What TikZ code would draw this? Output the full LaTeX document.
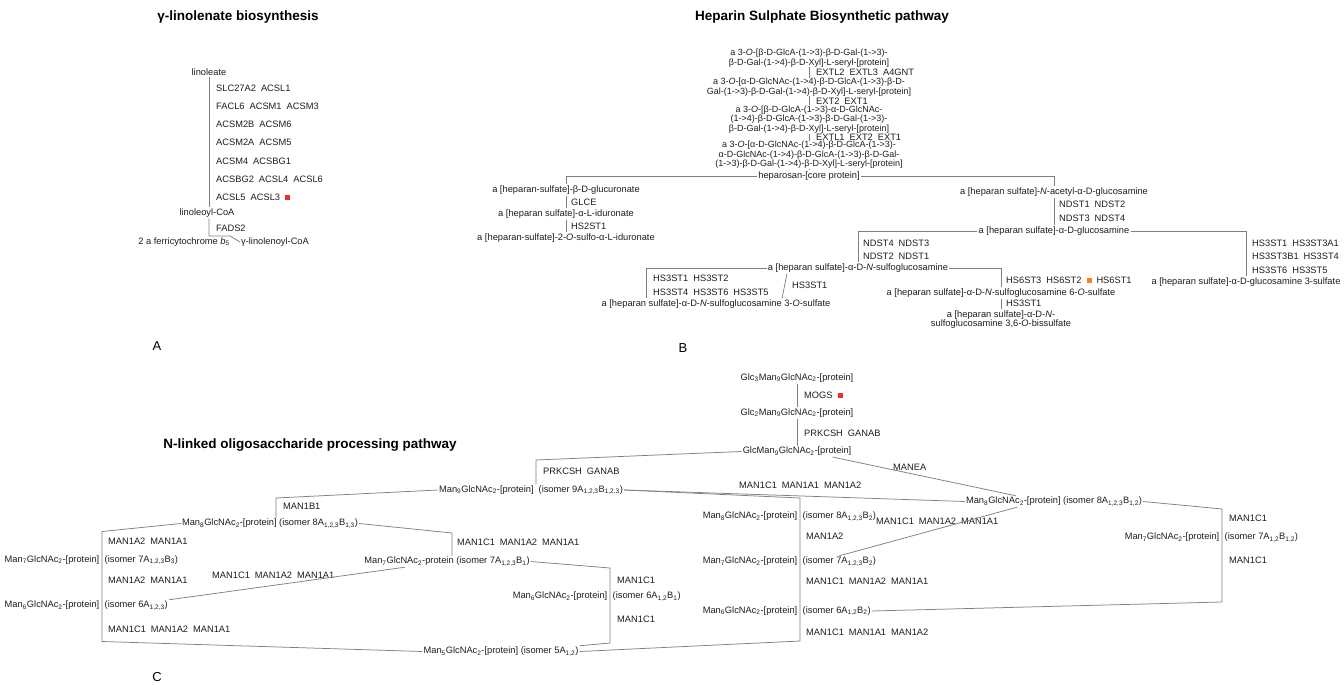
\documentclass[tikz,border=0pt]{standalone}
\usepackage{fontspec}
\setmainfont{Liberation Sans}
\usetikzlibrary{positioning}

\definecolor{linkgray}{RGB}{128,128,128}
\definecolor{txtgray}{RGB}{30,30,30}
\definecolor{hitred}{RGB}{238,48,36}
\definecolor{hitorange}{RGB}{246,128,38}

\newcommand{\hitbox}[1]{\textcolor{#1}{\rule[0.5pt]{5pt}{5pt}}}
\newcommand{\subs}[1]{\textsubscript{#1}}
\newcommand{\egap}{\hspace{5pt}}

\tikzset{
  cpd/.style={inner sep=1pt, text=txtgray, font=\fontsize{9.3}{8.3}\selectfont, align=center},
  cpdm/.style={cpd, inner sep=0.3pt, font=\fontsize{9}{8.2}\selectfont},
  enz/.style={inner sep=0pt, anchor=west, text=txtgray, font=\fontsize{9.3}{10}\selectfont},
  ttl/.style={inner sep=0pt, font=\fontsize{13.5}{15}\selectfont\bfseries},
  plabel/.style={inner sep=0pt, font=\fontsize{13}{15}\selectfont},
  link/.style={draw=linkgray, line width=0.75pt}
}

\begin{document}
\begin{tikzpicture}[x=1pt,y=-1pt]
  \fill[white] (0,0) rectangle (1344,685);
  \useasboundingbox (0,0) rectangle (1344,685);

  % A: gamma-linolenate
  \node[ttl] (ttlA) at (238,17) {γ-linolenate biosynthesis};
  \node[cpd] (linoleate) at (209,72) {linoleate};
  \node[enz] (eA1) at (216,88) {SLC27A2\egap ACSL1};
  \node[enz] (eA2) at (216,106) {FACL6\egap ACSM1\egap ACSM3};
  \node[enz] (eA3) at (216,124.5) {ACSM2B\egap ACSM6};
  \node[enz] (eA4) at (216,142.5) {ACSM2A\egap ACSM5};
  \node[enz] (eA5) at (216,161) {ACSM4\egap ACSBG1};
  \node[enz] (eA6) at (216,179) {ACSBG2\egap ACSL4\egap ACSL6};
  \node[enz] (eA7) at (216,197) {ACSL5\egap ACSL3\egap\hitbox{hitred}};
  \node[cpd] (linoleoyl) at (207,213) {linoleoyl-CoA};
  \node[enz] (eA8) at (216,228.5) {FADS2};
  \node[cpd] (ferri) at (184,242) {2 a ferricytochrome \textit{b}\subs{5}};
  \node[cpd] (glcoa) at (275,242) {γ-linolenoyl-CoA};
  \coordinate (splitA) at (209,236);
  \draw[link] (linoleate.south -| splitA) -- (linoleoyl.north -| splitA);
  \draw[link] (linoleoyl.south -| splitA) -- (splitA) -- ++(21,0) -- (glcoa.west);
  \node[plabel] (labA) at (157,346) {A};

  % B: heparin sulphate
  \node[ttl] (ttlB) at (822,17) {Heparin Sulphate Biosynthetic pathway};
  \node[cpdm] (hsA) at (809,58) {a 3-\textit{O}-[β-D-GlcA-(1->3)-β-D-Gal-(1->3)-\\β-D-Gal-(1->4)-β-D-Xyl]-L-seryl-[protein]};
  \node[enz] (eB1) at (816,72.5) {EXTL2\egap EXTL3\egap A4GNT};
  \node[cpdm] (hsB) at (809,87) {a 3-\textit{O}-[α-D-GlcNAc-(1->4)-β-D-GlcA-(1->3)-β-D-\\Gal-(1->3)-β-D-Gal-(1->4)-β-D-Xyl]-L-seryl-[protein]};
  \node[enz] (eB2) at (816,101) {EXT2\egap EXT1};
  \node[cpdm] (hsC) at (809,119.5) {a 3-\textit{O}-[β-D-GlcA-(1->3)-α-D-GlcNAc-\\(1->4)-β-D-GlcA-(1->3)-β-D-Gal-(1->3)-\\β-D-Gal-(1->4)-β-D-Xyl]-L-seryl-[protein]};
  \node[enz] (eB3) at (816,137) {EXTL1\egap EXT2\egap EXT1};
  \node[cpdm] (hsD) at (809,155) {a 3-\textit{O}-[α-D-GlcNAc-(1->4)-β-D-GlcA-(1->3)-\\α-D-GlcNAc-(1->4)-β-D-GlcA-(1->3)-β-D-Gal-\\(1->3)-β-D-Gal-(1->4)-β-D-Xyl]-L-seryl-[protein]};
  \node[cpd] (heparosan) at (809,176) {heparosan-[core protein]};

  \node[cpd] (glucur) at (566,190) {a [heparan-sulfate]-β-D-glucuronate};
  \node[enz] (eB4) at (571,202) {GLCE};
  \node[cpd] (iduron) at (566,214) {a [heparan sulfate]-α-L-iduronate};
  \node[enz] (eB5) at (571,226) {HS2ST1};
  \node[cpd] (sulfoid) at (566,238) {a [heparan-sulfate]-2-\textit{O}-sulfo-α-L-iduronate};

  \node[cpd] (nacetyl) at (1054,192) {a [heparan sulfate]-\textit{N}-acetyl-α-D-glucosamine};
  \node[enz] (eB6) at (1059,204) {NDST1\egap NDST2};
  \node[enz] (eB7) at (1059,218) {NDST3\egap NDST4};
  \node[cpd] (glcn) at (1054,231) {a [heparan sulfate]-α-D-glucosamine};

  \node[enz] (eB8) at (863,243) {NDST4\egap NDST3};
  \node[enz] (eB9) at (863,256) {NDST2\egap NDST1};
  \node[cpd] (nsulf) at (858,268) {a [heparan sulfate]-α-D-\textit{N}-sulfoglucosamine};

  \node[enz] (eB10) at (1252,243) {HS3ST1\egap HS3ST3A1};
  \node[enz] (eB11) at (1252,256) {HS3ST3B1\egap HS3ST4};
  \node[enz] (eB12) at (1252,270) {HS3ST6\egap HS3ST5};
  \node[cpd] (glcn3s) at (1246,282) {a [heparan sulfate]-α-D-glucosamine 3-sulfate};

  \node[enz] (eB13) at (653,278) {HS3ST1\egap HS3ST2};
  \node[enz] (eB14) at (653,292.5) {HS3ST4\egap HS3ST6\egap HS3ST5};
  \node[enz] (eB15) at (792,285) {HS3ST1};
  \node[cpd] (nsulf3s) at (716,304) {a [heparan sulfate]-α-D-\textit{N}-sulfoglucosamine 3-\textit{O}-sulfate};

  \node[enz] (eB16) at (1006,280) {HS6ST3\egap HS6ST2\egap\hitbox{hitorange}\egap HS6ST1};
  \node[cpd] (nsulf6s) at (1001,293) {a [heparan sulfate]-α-D-\textit{N}-sulfoglucosamine 6-\textit{O}-sulfate};
  \node[enz] (eB17) at (1006,303.5) {HS3ST1};
  \node[cpd] (bissulf) at (1001,319.5) {a [heparan sulfate]-α-D-\textit{N}-\\sulfoglucosamine 3,6-\textit{O}-bissulfate};
  \node[plabel] (labB) at (683,348) {B};

  \coordinate (bendB) at (646,268);
  \draw[link] (hsA) -- (hsB) -- (hsC) -- (hsD) -- (heparosan);
  \draw[link] (heparosan.west) -| (glucur.north);
  \draw[link] (glucur) -- (iduron) -- (sulfoid);
  \draw[link] (heparosan.east) -| (nacetyl.north);
  \draw[link] (nacetyl) -- (glcn);
  \draw[link] (glcn.west) -| (nsulf.north);
  \draw[link] (glcn.east) -| (glcn3s.north);
  \draw[link] (nsulf.west) -- (bendB) -- (bendB |- nsulf3s.north);
  \draw[link] ([xshift=-71pt]nsulf.south) -- ([xshift=66pt]nsulf3s.north);
  \draw[link] (nsulf.east) -| (nsulf6s.north);
  \draw[link] (nsulf6s) -- (bissulf);

  % C: N-linked oligosaccharides
  \node[ttl] (ttlC) at (310,445) {N-linked oligosaccharide processing pathway};
  \node[cpd] (glc3) at (797,378) {Glc\subs{3}Man\subs{9}GlcNAc\subs{2}-[protein]};
  \node[enz] (eC1) at (804,395) {MOGS\egap\hitbox{hitred}};
  \node[cpd] (glc2) at (797,413) {Glc\subs{2}Man\subs{9}GlcNAc\subs{2}-[protein]};
  \node[enz] (eC2) at (804,433) {PRKCSH\egap GANAB};
  \node[cpd] (glc1) at (797,451.5) {GlcMan\subs{9}GlcNAc\subs{2}-[protein]};

  \node[enz] (eC3) at (543,471) {PRKCSH\egap GANAB};
  \node[cpd] (man9) at (531,490) {Man\subs{9}GlcNAc\subs{2}-[protein]\egap(isomer 9A\subs{1,2,3}B\subs{1,2,3})};
  \node[enz] (eC4) at (893,467) {MANEA};
  \node[enz] (eC5) at (739,485) {MAN1C1\egap MAN1A1\egap MAN1A2};
  \node[cpd] (man8b12) at (1054,501.5) {Man\subs{8}GlcNAc\subs{2}-[protein] (isomer 8A\subs{1,2,3}B\subs{1,2})};

  \node[cpd,anchor=east] (man8b2) at (798.5,516.5) {Man\subs{8}GlcNAc\subs{2}-[protein]};
  \node[cpd,anchor=west] (man8b2i) at (801.5,516.5) {(isomer 8A\subs{1,2,3}B\subs{2})};
  \node[enz] (eC6) at (876,521.5) {MAN1C1\egap MAN1A2\egap MAN1A1};
  \node[enz] (eC7) at (806,536.5) {MAN1A2};
  \node[cpd,anchor=east] (man7b2) at (798.5,561.5) {Man\subs{7}GlcNAc\subs{2}-[protein]};
  \node[cpd,anchor=west] (man7b2i) at (801.5,561.5) {(isomer 7A\subs{1,2,3}B\subs{2})};
  \node[enz] (eC8) at (806,581.5) {MAN1C1\egap MAN1A2\egap MAN1A1};
  \node[cpd,anchor=east] (man6b2) at (798.5,611) {Man\subs{6}GlcNAc\subs{2}-[protein]};
  \node[cpd,anchor=west] (man6b2i) at (801.5,611) {(isomer 6A\subs{1,2}B\subs{2})};
  \node[enz] (eC9) at (806,632.5) {MAN1C1\egap MAN1A1\egap MAN1A2};

  \node[enz] (eC10) at (1229,518) {MAN1C1};
  \node[cpd,anchor=east] (man7b12) at (1220.5,537.5) {Man\subs{7}GlcNAc\subs{2}-[protein]};
  \node[cpd,anchor=west] (man7b12i) at (1223.5,537.5) {(isomer 7A\subs{1,2}B\subs{1,2})};
  \node[enz] (eC11) at (1229,560) {MAN1C1};

  \node[enz] (eC12) at (283,506) {MAN1B1};
  \node[cpd] (man8b13) at (270,523.5) {Man\subs{8}GlcNAc\subs{2}-[protein] (isomer 8A\subs{1,2,3}B\subs{1,3})};
  \node[enz] (eC13) at (108,541.5) {MAN1A2\egap MAN1A1};
  \node[cpd,anchor=east] (man7b3) at (100.5,560) {Man\subs{7}GlcNAc\subs{2}-[protein]};
  \node[cpd,anchor=west] (man7b3i) at (103.5,560) {(isomer 7A\subs{1,2,3}B\subs{3})};
  \node[enz] (eC14) at (108,580) {MAN1A2\egap MAN1A1};
  \node[cpd,anchor=east] (man6) at (100.5,605.5) {Man\subs{6}GlcNAc\subs{2}-[protein]};
  \node[cpd,anchor=west] (man6i) at (103.5,605.5) {(isomer 6A\subs{1,2,3})};
  \node[enz] (eC15) at (108,629.5) {MAN1C1\egap MAN1A2\egap MAN1A1};

  \node[enz] (eC16) at (457,542) {MAN1C1\egap MAN1A2\egap MAN1A1};
  \node[cpd] (man7b1) at (447,561.5) {Man\subs{7}GlcNAc\subs{2}-protein (isomer 7A\subs{1,2,3}B\subs{1})};
  \node[enz] (eC17) at (212,575) {MAN1C1\egap MAN1A2\egap MAN1A1};

  \node[enz] (eC18) at (617,580) {MAN1C1};
  \node[cpd,anchor=east] (man6b1) at (608.5,596.5) {Man\subs{6}GlcNAc\subs{2}-[protein]};
  \node[cpd,anchor=west] (man6b1i) at (611.5,596.5) {(isomer 6A\subs{1,2}B\subs{1})};
  \node[enz] (eC19) at (617,619.5) {MAN1C1};
  \node[cpd] (man5) at (501,651.5) {Man\subs{5}GlcNAc\subs{2}-[protein] (isomer 5A\subs{1,2})};
  \node[plabel] (labC) at (157,677) {C};

  \coordinate (bend9) at (536,460);
  \coordinate (bend8) at (276,498);
  \coordinate (bend7) at (452,533);
  \coordinate (colT) at (800,498);
  \coordinate (colB) at (800,641);
  \coordinate (colRT) at (1222,509);
  \coordinate (colRB) at (1222,602);
  \coordinate (colLT) at (102,531.5);
  \coordinate (colLB) at (102,641.5);
  \coordinate (col6T) at (610,568);
  \coordinate (col6B) at (610,643);
  \draw[link] (glc3) -- (glc2) -- (glc1);
  \draw[link] (glc1.west) -- (bend9) -- (bend9 |- man9.north);
  \draw[link] ([xshift=-20pt]glc1.south east) -- ([xshift=-38pt]man8b12.north);
  \draw[link] (man9.east) -- (man8b12.west);
  \draw[link] (man9.east) -- (colT) -- (colB) -- (man5.east);
  \draw[link] ([xshift=-37pt]man8b12.south) -- (man7b2i.north);
  \draw[link] (man8b12.east) -- (colRT) -- (colRB) -- (man6b2i.east);
  \draw[link] (man9.west) -- (bend8) -- (bend8 |- man8b13.north);
  \draw[link] (man8b13.west) -- (colLT) -- (colLB) -- (man5.west);
  \draw[link] (man8b13.east) -- (bend7) -- (bend7 |- man7b1.north);
  \draw[link] ([xshift=-42pt]man7b1.south) -- (man6i.north east);
  \draw[link] (man7b1.east) -- (col6T) -- (col6B) -- (man5.north east);
\end{tikzpicture}
\end{document}
